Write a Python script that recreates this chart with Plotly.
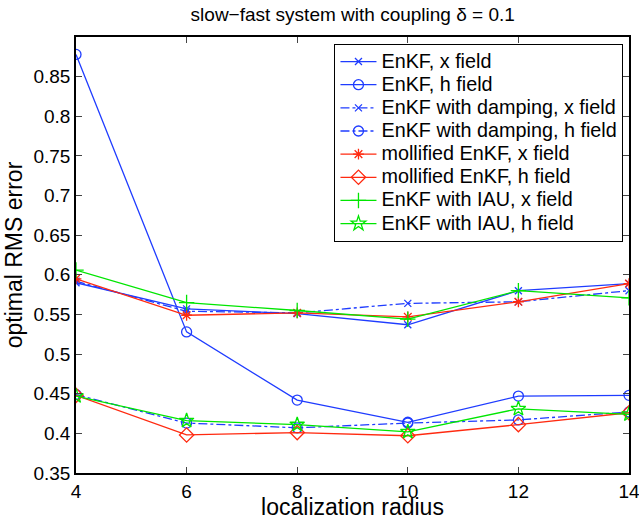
import plotly.graph_objects as go

radius = [4, 6, 8, 10, 12, 14]

enkf_x = [0.590, 0.557, 0.551, 0.537, 0.580, 0.589]
enkf_h = [0.878, 0.528, 0.442, 0.414, 0.447, 0.448]
damp_x = [0.592, 0.554, 0.552, 0.564, 0.566, 0.580]
damp_h = [0.449, 0.413, 0.407, 0.413, 0.417, 0.427]
moll_x = [0.595, 0.549, 0.552, 0.547, 0.566, 0.589]
moll_h = [0.448, 0.398, 0.401, 0.397, 0.411, 0.426]
iau_x = [0.606, 0.565, 0.555, 0.544, 0.580, 0.571]
iau_h = [0.447, 0.416, 0.411, 0.402, 0.431, 0.424]

names = [
    "EnKF, x field", "EnKF, h field",
    "EnKF with damping, x field", "EnKF with damping, h field",
    "mollified EnKF, x field", "mollified EnKF, h field",
    "EnKF with IAU, x field", "EnKF with IAU, h field",
]

yticks = [0.35, 0.4, 0.45, 0.5, 0.55, 0.6, 0.65, 0.7, 0.75, 0.8, 0.85]
ytick_text = ["0.35", "0.4", "0.45", "0.5", "0.55", "0.6", "0.65", "0.7", "0.75", "0.8", "0.85"]
xticks = [4, 6, 8, 10, 12, 14]

BLUE = "#1f3cff"
RED = "#ff2a10"
GREEN = "#00e600"

series = [
    (enkf_x, BLUE, "solid", "x-thin-open", 7),
    (enkf_h, BLUE, "solid", "circle-open", 10),
    (damp_x, BLUE, "dashdot", "x-thin-open", 7),
    (damp_h, BLUE, "dashdot", "circle-open", 10),
    (moll_x, RED, "solid", "asterisk-open", 9),
    (moll_h, RED, "solid", "diamond-open", 11),
    (iau_x, GREEN, "solid", "cross-thin-open", 11),
    (iau_h, GREEN, "solid", "star-open", 11),
]

fig = go.Figure()
for (vals, col, dash, sym, sz), nm in zip(series, names):
    fig.add_trace(go.Scatter(
        x=radius, y=vals,
        name="<span style='font-size:19.8px'>" + nm + "</span>",
        mode="lines+markers",
        line=dict(color=col, width=1.3, dash=dash),
        marker=dict(symbol=sym, size=sz, color=col, line=dict(color=col, width=1.3)),
    ))

FONT = "Liberation Sans, Arial, Helvetica, sans-serif"
fig.update_layout(
    width=639, height=520,
    margin=dict(l=76, r=10, t=37, b=47, autoexpand=False),
    paper_bgcolor="white", plot_bgcolor="white",
    font=dict(family=FONT, size=19, color="black"),
    title=dict(text="slow\u2212fast system with coupling \u03b4 = 0.1",
               x=0.552, xanchor="center", y=0.973, yanchor="middle",
               font=dict(size=19)),
    showlegend=True,
    legend=dict(x=0.990, xanchor="right", y=0.984, yanchor="top",
                bgcolor="white", bordercolor="black", borderwidth=1,
                font=dict(size=15.5), itemwidth=36, tracegroupgap=0),
)
fig.update_xaxes(range=[4, 14], tickvals=xticks, ticks="inside", ticklen=6,
                 showline=True, linecolor="black", linewidth=1.5, mirror="ticks",
                 showgrid=False, zeroline=False, automargin=False,
                 ticklabeloverflow="allow",
                 title=dict(text="localization radius", standoff=0))
fig.update_yaxes(range=[0.35, 0.9], tickvals=yticks, ticktext=ytick_text,
                 ticks="inside", ticklen=6,
                 showline=True, linecolor="black", linewidth=1.5, mirror="ticks",
                 showgrid=False, zeroline=False, automargin=False,
                 ticklabeloverflow="allow",
                 title=dict(text="optimal RMS error", standoff=4))

fig.write_html("out.html", config={"displayModeBar": False},
               post_script="document.body.style.margin='0';document.body.style.overflow='hidden';")
